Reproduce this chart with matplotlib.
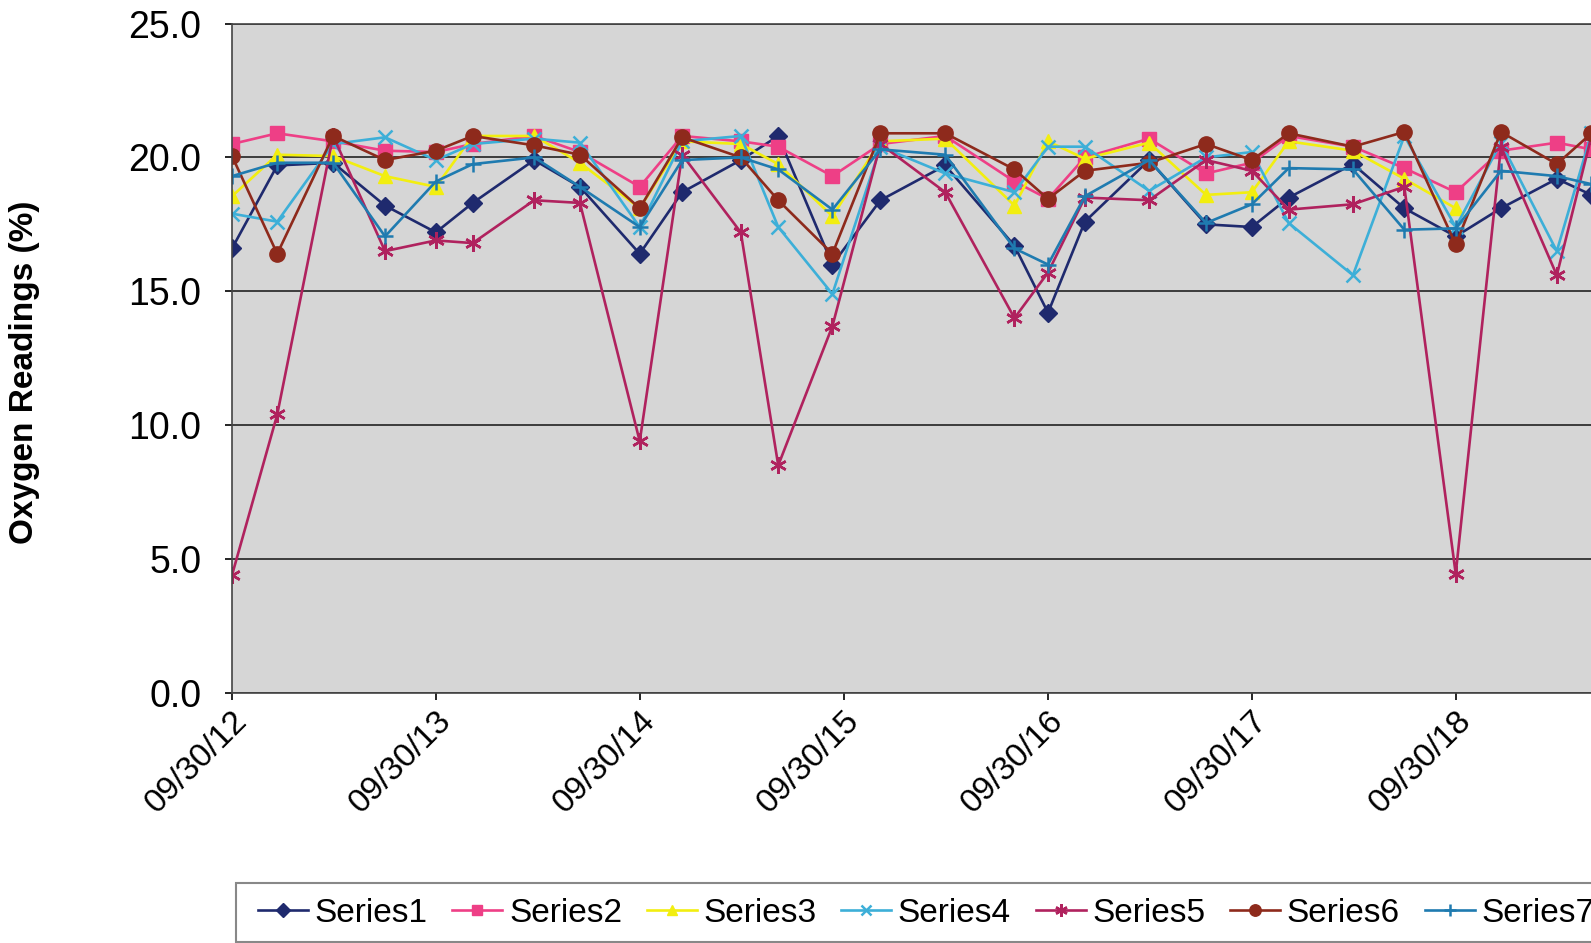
import numpy as np
import pandas as pd
import matplotlib
matplotlib.use("Agg")
import matplotlib.pyplot as plt
import matplotlib.dates as mdates
from matplotlib.patches import Rectangle

plt.rcParams['font.family'] = ['Liberation Sans', 'DejaVu Sans']

# sample dates
dates = pd.to_datetime([
    "2012-09-30", "2012-12-20", "2013-03-30", "2013-07-01", "2013-09-30",
    "2013-12-05", "2014-03-25", "2014-06-15", "2014-09-30",
    "2014-12-15", "2015-03-30", "2015-06-05", "2015-09-10",
    "2015-12-05", "2016-03-30", "2016-08-01", "2016-09-30",
    "2016-12-05", "2017-03-30", "2017-07-10", "2017-09-30",
    "2017-12-05", "2018-03-30", "2018-06-30", "2018-09-30",
    "2018-12-20", "2019-03-30", "2019-05-31",
])

nan = np.nan
series1 = [16.6, 19.7, 19.8, 18.2, 17.2, 18.3, 19.9, 18.9, 16.4, 18.7, 19.9, 20.8, 16.0, 18.4,
           19.7, 16.7, 14.2, 17.6, 19.9, 17.5, 17.4, 18.5, 19.75, 18.1, 17.05, 18.1, 19.2, 18.6]
series2 = [20.5, 20.9, 20.6, 20.25, 20.2, 20.5, 20.8, 20.2, 18.9, 20.8, 20.6, 20.4, 19.3, 20.5,
           20.8, 19.1, 18.45, 20.0, 20.7, 19.4, 19.8, 20.8, 20.4, 19.6, 18.7, 20.25, 20.55, 20.3]
series3 = [18.55, 20.1, 20.05, 19.3, 18.9, 20.8, 20.8, 19.8, 18.1, 20.6, 20.5, 19.75, 17.8, 20.6,
           20.7, 18.2, 20.6, 19.95, 20.55, 18.6, 18.7, 20.6, 20.25, 19.2, 18.1, nan, nan, nan]
series4 = [17.9, 17.6, 20.5, 20.75, 19.9, 20.5, 20.7, 20.55, 17.4, 20.6, 20.8, 17.4, 14.9, 20.4,
           19.4, 18.7, 20.4, 20.4, 18.75, 20.0, 20.2, 17.55, 15.6, 20.8, 17.4, 20.55, 16.5, 20.9]
series5 = [4.4, 10.4, 20.8, 16.5, 16.9, 16.8, 18.4, 18.3, 9.4, 20.1, 17.2, 8.5, 13.7, 20.5,
           18.7, 14.0, 15.7, 18.5, 18.4, 19.9, 19.5, 18.05, 18.25, 18.9, 4.45, 20.4, 15.6, 20.8]
series6 = [20.05, 16.4, 20.8, 19.9, 20.25, 20.8, 20.45, 20.1, 18.1, 20.75, 20.0, 18.4, 16.4, 20.9,
           20.9, 19.55, 18.45, 19.5, 19.8, 20.5, 19.9, 20.9, 20.4, 20.95, 16.75, 20.95, 19.75, 20.9]
series7 = [19.3, 19.8, 19.8, 17.05, 19.1, 19.75, 20.0, 18.9, 17.4, 19.9, 20.0, 19.55, 18.05, 20.3,
           20.1, 16.6, 16.0, 18.55, 19.9, 17.55, 18.25, 19.6, 19.55, 17.3, 17.35, 19.5, 19.3, 19.0]

series_names = ["Series1", "Series2", "Series3", "Series4", "Series5", "Series6", "Series7"]
tick_dates = pd.to_datetime(["2012-09-30", "2013-09-30", "2014-09-30", "2015-09-30",
                             "2016-09-30", "2017-09-30", "2018-09-30"])
yticks = [0, 5, 10, 15, 20, 25]

colors = ['#1F2A6E', '#EE3F86', '#F2EE10', '#3DAFD8', '#B0225E', '#8E2A1C', '#1F7BB0']
markers = ['D', 's', '^', 'x', (6, 2, 0), 'o', '+']
msizes = [9, 10, 10, 10, 12, 11, 12]

W, H = 1591, 943
xmin = pd.Timestamp("2012-09-30")
xmax = pd.Timestamp("2019-08-31")
px_per_year = 204
ax_w = px_per_year * (xmax - xmin).days / 365.25

fig = plt.figure(figsize=(W / 100, H / 100), dpi=100)
# plot area runs off the right edge of the picture
ax = fig.add_axes([232 / W, (H - 693) / H, ax_w / W, 669.5 / H])
ax.set_facecolor('#D6D6D6')

all_series = [series1, series2, series3, series4, series5, series6, series7]
for name, vals, c, m, ms in zip(series_names, all_series, colors, markers, msizes):
    thin = m in ('x', '+') or isinstance(m, tuple)
    ax.plot(dates, vals, color=c, marker=m, markersize=ms, linewidth=1.9,
            markeredgewidth=1.8 if thin else 1.0, markeredgecolor=c, label=name)

ax.set_ylim(0, 25)
ax.set_yticks(yticks)
ax.yaxis.set_major_formatter(matplotlib.ticker.FormatStrFormatter('%.1f'))
ax.set_xlim(xmin, xmax)
ax.set_xticks(tick_dates)
ax.xaxis.set_major_formatter(mdates.DateFormatter('%m/%d/%y'))
ax.grid(axis='y', color='#222222', linewidth=1.2)
ax.set_axisbelow(True)

for s in ['left', 'bottom', 'top']:
    ax.spines[s].set_color('#444444')
    ax.spines[s].set_linewidth(1.2)
ax.spines['right'].set_visible(False)

ax.tick_params(axis='y', labelsize=27, length=5, width=1.2, direction='out', pad=17)
ax.tick_params(axis='x', labelsize=24, length=5, width=1.2, direction='out', pad=4)
for lab in ax.get_xticklabels():
    lab.set_rotation(45)
    lab.set_ha('right')
    lab.set_rotation_mode('anchor')

fig.text(25 / W, 1 - 372 / H, "Oxygen Readings (%)", rotation=90, fontsize=24,
         fontweight='bold', ha='center', va='center')

# legend box, also running off the right edge
box = Rectangle((236 / W, 1 - 942 / H), 1500 / W, 59 / H, transform=fig.transFigure,
                facecolor='white', edgecolor='#888888', linewidth=1.5, zorder=1)
fig.add_artist(box)
leg = fig.legend(loc='center left', bbox_to_anchor=(258 / W, 1 - 913 / H), ncol=7,
                 fontsize=24, frameon=False,
                 handlelength=1.5, handletextpad=0.2, columnspacing=0.74,
                 borderpad=0, borderaxespad=0, markerscale=0.75)
leg.set_zorder(2)

fig.savefig("out.png", dpi=100)
